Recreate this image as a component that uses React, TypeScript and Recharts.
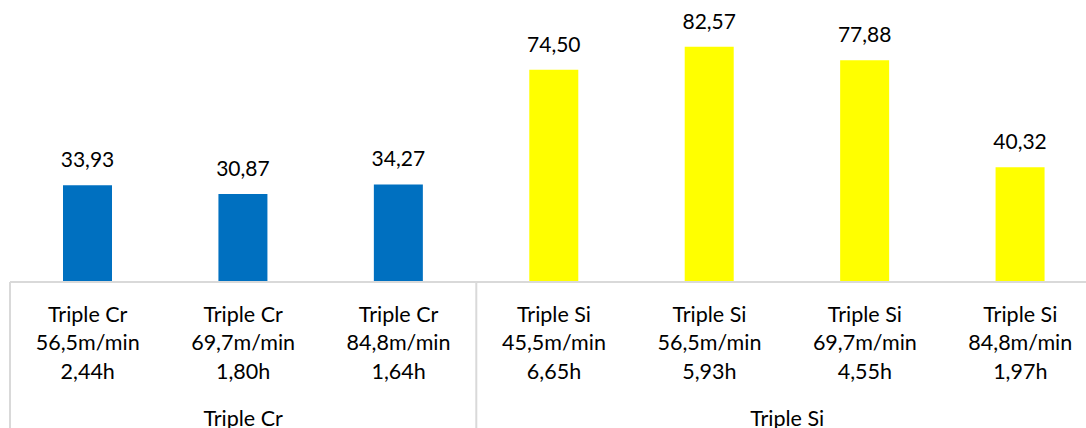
import { BarChart, Bar, XAxis, YAxis, Cell, LabelList } from 'recharts';

// one entry per bar
const materials = ['Triple Cr', 'Triple Cr', 'Triple Cr', 'Triple Si', 'Triple Si', 'Triple Si', 'Triple Si'];
const speeds = ['56,5m/min', '69,7m/min', '84,8m/min', '45,5m/min', '56,5m/min', '69,7m/min', '84,8m/min'];
const durations = ['2,44h', '1,80h', '1,64h', '6,65h', '5,93h', '4,55h', '1,97h'];
const values = [33.93, 30.87, 34.27, 74.5, 82.57, 77.88, 40.32];

const groupColors: Record<string, string> = {
  'Triple Cr': '#0070C0',
  'Triple Si': '#FFFF00',
};

const CHART_W = 1098;
const CHART_H = 428;
const MARGIN = { top: 0, right: 0, left: 10, bottom: 0 };
const AXIS_H = 146;
const BAND = (CHART_W - MARGIN.left - MARGIN.right) / values.length;
const FONT = 'Lato, "Open Sans", sans-serif';
const GRID = '#d9d9d9';

const data = values.map((v, i) => ({
  key: `${materials[i]} ${speeds[i]} ${durations[i]}`,
  value: v,
}));

const fmt = (v: number) => v.toFixed(2).replace('.', ',');

function CategoryTick(props: any) {
  const { x, y, index } = props;
  const i: number = index;
  const lines = [materials[i], speeds[i], durations[i]];
  const groupStart = i === 0 || materials[i] !== materials[i - 1];
  const groupSize = materials.filter((m) => m === materials[i]).length;
  const left = x - BAND / 2;
  return (
    <g>
      {lines.map((t, k) => (
        <text
          key={k}
          x={x}
          y={y + 39.7 + k * 28.4}
          textAnchor="middle"
          fontFamily={FONT}
          fontSize={21.5}
          fill="#000"
        >
          {t}
        </text>
      ))}
      {groupStart && (
        <>
          <line x1={left} x2={left} y1={y} y2={y + AXIS_H} stroke={GRID} strokeWidth={2} />
          <text
            x={left + (groupSize * BAND) / 2}
            y={y + 143.6}
            textAnchor="middle"
            fontFamily={FONT}
            fontSize={21.5}
            fill="#000"
          >
            {materials[i]}
          </text>
        </>
      )}
    </g>
  );
}

export default function App() {
  return (
    <div
      style={{
        position: 'fixed',
        left: 0,
        top: 0,
        width: 1086,
        height: CHART_H,
        overflow: 'hidden',
        background: '#fff',
      }}
    >
      <BarChart width={CHART_W} height={CHART_H} data={data} margin={MARGIN}>
        <XAxis
          dataKey="key"
          height={AXIS_H}
          interval={0}
          tickLine={false}
          tickSize={0}
          tickMargin={0}
          axisLine={{ stroke: GRID, strokeWidth: 2 }}
          tick={(p: any) => <CategoryTick {...p} />}
        />
        <YAxis hide domain={[0, 99]} />
        <Bar dataKey="value" barSize={49} isAnimationActive={false}>
          {data.map((_, i) => (
            <Cell key={i} fill={groupColors[materials[i]]} />
          ))}
          <LabelList
            dataKey="value"
            position="top"
            offset={18}
            formatter={(v: any) => fmt(Number(v))}
            style={{ fontFamily: FONT, fontSize: 21, fill: '#000' }}
          />
        </Bar>
      </BarChart>
    </div>
  );
}
